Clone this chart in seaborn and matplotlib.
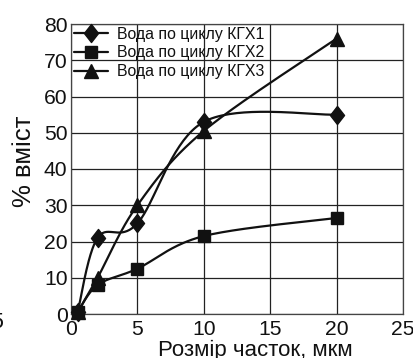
import numpy as np
import pandas as pd
import matplotlib
matplotlib.use("Agg")
import matplotlib.pyplot as plt
from matplotlib.lines import Line2D
from matplotlib.path import Path
import seaborn as sns

# ---- data ----
sizes = [0.5, 2, 5, 10, 20]
kgx1 = [0.5, 21, 25, 53, 55]
kgx2 = [0.5, 8, 12.5, 21.5, 26.5]
kgx3 = [0.5, 10, 30, 50.5, 76]
series_names = ["Вода по циклу КГХ1", "Вода по циклу КГХ2", "Вода по циклу КГХ3"]
xticks = [0, 5, 10, 15, 20, 25]
yticks = [0, 10, 20, 30, 40, 50, 60, 70, 80]
xlabel = "Розмір часток, мкм"
ylabel = "% вміст"

diamond = Path([(0, 1), (0.78, 0), (0, -1), (-0.78, 0), (0, 1)],
               [Path.MOVETO, Path.LINETO, Path.LINETO, Path.LINETO, Path.CLOSEPOLY])
markers = [diamond, "s", "^"]
marker_sizes = [13, 9, 10.5]

sns.set_theme(style="white")
plt.rcParams['font.family'] = ['Liberation Sans', 'DejaVu Sans']

fig = plt.figure(figsize=(4.13, 3.58), dpi=100)
ax = fig.add_axes([71/413, 44/358, 332/413, 290/358])
ax.set_xlim(0, 25)
ax.set_ylim(0, 80)

# smooth (Excel style Bezier) curve through the points, in axis-scaled units
def smooth(xs, ys, n=40):
    sx, sy = 332/25, 290/80
    P = np.column_stack([np.array(xs)*sx, np.array(ys)*sy])
    Pext = np.vstack([P[0], P, P[-1]])
    out = []
    for i in range(len(P)-1):
        p0, p1, p2, p3 = Pext[i], Pext[i+1], Pext[i+2], Pext[i+3]
        c1 = p1 + (p2 - p0)/6
        c2 = p2 - (p3 - p1)/6
        t = np.linspace(0, 1, n)[:, None]
        seg = (1-t)**3*p1 + 3*(1-t)**2*t*c1 + 3*(1-t)*t**2*c2 + t**3*p2
        out.append(seg if i == 0 else seg[1:])
    out = np.vstack(out)
    return out[:, 0]/sx, out[:, 1]/sy

handles = []
for name, vals, m, ms in zip(series_names, [kgx1, kgx2, kgx3], markers, marker_sizes):
    cx, cy = smooth(sizes, vals)
    sns.lineplot(x=cx, y=cy, ax=ax, color="#111111", linewidth=1.6, sort=False,
                 estimator=None, zorder=3)
    df = pd.DataFrame({"x": sizes, "y": vals})
    ax.plot(df["x"], df["y"], linestyle="none", marker=m, markersize=ms,
            color="#111111", zorder=4, clip_on=False)
    handles.append(Line2D([0], [0], color="#111111", linewidth=1.6, marker=m,
                          markersize=ms))

ax.set_xticks(xticks)
ax.set_yticks(yticks)
ax.tick_params(axis="both", labelsize=15.2, length=0, colors="#111111")
ax.tick_params(axis="x", pad=4)
ax.tick_params(axis="y", pad=2.5)
ax.grid(True, color="#222222", linewidth=0.9)
ax.set_axisbelow(True)
for s in ax.spines.values():
    s.set_color("#444444")
    s.set_linewidth(0.9)

ax.set_xlabel(xlabel, fontsize=16, color="#111111")
ax.xaxis.set_label_coords(0.556, -0.089)
ax.set_ylabel(ylabel, fontsize=18.5, color="#111111")
ax.yaxis.set_label_coords(-0.106, 0.526)

leg = ax.legend(handles, series_names, loc="upper left", bbox_to_anchor=(0.0, 1.0),
                frameon=False, fontsize=11.4, handlelength=2.15, handletextpad=0.6,
                labelspacing=0.25, borderaxespad=0.08, borderpad=0.08)
for t in leg.get_texts():
    t.set_color("#111111")

fig.text(-0.008, 0.098, "5", fontsize=15.5, ha="center", va="center", color="#111111")

fig.savefig("out.png", dpi=100)
